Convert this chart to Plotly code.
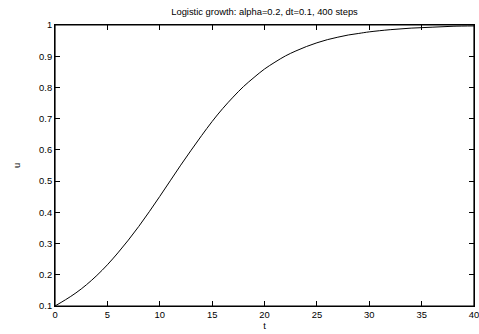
import plotly.graph_objects as go

t_values = [0, 1, 2, 3, 4, 5, 6, 7, 8, 9, 10, 11, 12, 13, 14, 15, 16, 17, 18, 19, 20,
            21, 22, 23, 24, 25, 26, 27, 28, 29, 30, 32, 34, 36, 38, 40]
u_values = [0.100, 0.120, 0.142, 0.168, 0.198, 0.232, 0.270, 0.311, 0.355, 0.402, 0.451,
            0.501, 0.551, 0.599, 0.646, 0.691, 0.732, 0.769, 0.803, 0.832, 0.859,
            0.881, 0.901, 0.917, 0.931, 0.943, 0.953, 0.961, 0.968, 0.973, 0.978,
            0.985, 0.990, 0.993, 0.996, 0.997]
x_ticks = [0, 5, 10, 15, 20, 25, 30, 35, 40]
y_ticks = [0.1, 0.2, 0.3, 0.4, 0.5, 0.6, 0.7, 0.8, 0.9, 1]
y_tick_labels = ["0.1", "0.2", "0.3", "0.4", "0.5", "0.6", "0.7", "0.8", "0.9", "1"]

font = "Liberation Sans, Arial, sans-serif"
fs = 9.4

fig = go.Figure()
fig.add_trace(go.Scatter(x=t_values, y=u_values, mode="lines",
                         line=dict(color="black", width=1, shape="spline"),
                         showlegend=False, hoverinfo="skip"))

axis_common = dict(showline=True, linecolor="black", linewidth=1, mirror="allticks",
                   ticks="inside", ticklen=5, tickcolor="black", tickwidth=1,
                   showgrid=False, zeroline=False, automargin=False,
                   ticklabeloverflow="allow",
                   tickfont=dict(family=font, size=fs, color="black"))

fig.update_layout(
    width=479, height=334,
    margin=dict(l=55, r=5, t=25, b=28),
    paper_bgcolor="white", plot_bgcolor="white",
    title=dict(text="Logistic growth: alpha=0.2, dt=0.1, 400 steps",
               xref="paper", x=0.5, xanchor="center",
               yref="container", y=1 - 12 / 334, yanchor="middle",
               font=dict(family=font, size=fs, color="black")),
    xaxis=dict(range=[0, 40], tickvals=x_ticks, ticktext=[str(v) for v in x_ticks],
               title=dict(text="t", font=dict(family=font, size=fs, color="black"), standoff=0),
               **axis_common),
    yaxis=dict(range=[0.1, 1], tickvals=y_ticks, ticktext=y_tick_labels,
               title=dict(text="u", font=dict(family=font, size=fs, color="black"), standoff=16),
               **axis_common),
    shapes=[dict(type="rect", xref="paper", yref="paper", x0=0, y0=0, x1=1, y1=1,
                 line=dict(color="black", width=1.2), layer="above")],
)

fig.write_html("out.html", config={"displayModeBar": False},
               post_script="document.body.style.margin='0';document.body.style.padding='0';")
